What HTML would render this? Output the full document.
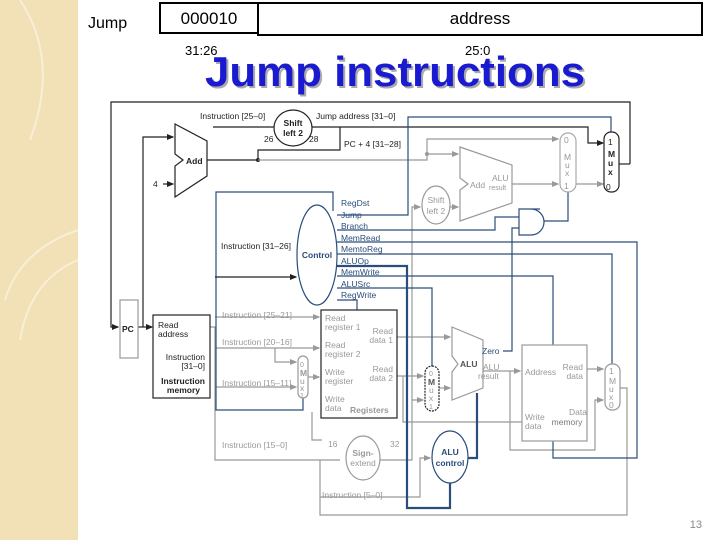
<!DOCTYPE html>
<html><head><meta charset="utf-8"><style>
html,body{margin:0;padding:0;background:#fff;}
body{width:720px;height:540px;position:relative;overflow:hidden;font-family:"Liberation Sans",sans-serif;}
.strip{position:absolute;left:0;top:0;width:78px;height:540px;background:#f2e0b6;}
svg{position:absolute;left:0;top:0;}
</style></head><body>
<div class="strip"></div>
<svg width="720" height="540" viewBox="0 0 720 540" font-family="Liberation Sans, sans-serif">
<defs>
<marker id="a" markerWidth="6" markerHeight="6" refX="5" refY="3" orient="auto"><path d="M0,0.5 L6,3 L0,5.5z" fill="#222"/></marker>
<marker id="g" markerWidth="6" markerHeight="6" refX="5" refY="3" orient="auto"><path d="M0,0.5 L6,3 L0,5.5z" fill="#999"/></marker>
</defs>
<path d="M20,0 Q60,60 30,140 M78,230 Q20,250 5,300 M78,260 Q30,280 20,340" stroke="#f8efd8" stroke-width="2" fill="none"/>
<!-- header -->
<text x="88" y="28" font-size="16">Jump</text>
<rect x="160" y="3" width="98" height="30" fill="#fff" stroke="#000" stroke-width="2"/>
<rect x="258" y="3" width="444" height="32" fill="#fff" stroke="#000" stroke-width="2"/>
<text x="209" y="24" font-size="17" text-anchor="middle">000010</text>
<text x="480" y="24" font-size="17" text-anchor="middle">address</text>
<text x="185" y="55" font-size="13">31:26</text>
<text x="465" y="55" font-size="13">25:0</text>
<text x="207" y="88" font-size="42" font-weight="bold" fill="#aaa" textLength="380" lengthAdjust="spacingAndGlyphs">Jump instructions</text>
<text x="205" y="86" font-size="42" font-weight="bold" fill="#1a1ad0" textLength="380" lengthAdjust="spacingAndGlyphs">Jump instructions</text>
<text x="702" y="528" font-size="11" fill="#888" text-anchor="end">13</text>

<g fill="none" stroke-width="1.2">
<!-- black top wires -->
<path d="M630,164 H630 V102 H111 V327 H118" stroke="#222" marker-end="url(#a)"/>
<path d="M619,164 H630" stroke="#222"/>
<path d="M213,127 H588 V143 H603" stroke="#222" marker-end="url(#a)"/>
<path d="M340,127 V150 H258 V160" stroke="#222"/>
<path d="M207,160 H258" stroke="#222"/>
<circle cx="258" cy="160" r="2" fill="#222"/>
<path d="M143,327 V137 H173" stroke="#222" marker-end="url(#a)"/>
<path d="M163,184 H173" stroke="#222" marker-end="url(#a)"/>
<path d="M138,327 H152" stroke="#222" marker-end="url(#a)"/>
<!-- gray wires -->
<path d="M258,160 H427 V139 H558" stroke="#999" marker-end="url(#g)"/>
<path d="M427,154 H458" stroke="#999" marker-end="url(#g)"/>
<circle cx="427" cy="154" r="2" fill="#999"/>
<path d="M512,184 H558" stroke="#999" marker-end="url(#g)"/>
<path d="M576,184 H603" stroke="#999" marker-end="url(#g)"/>
<path d="M450,207 H458" stroke="#999" marker-end="url(#g)"/>
<path d="M412,400 V207 H420" stroke="#999" marker-end="url(#g)"/>
<path d="M210,327 H215 V460 H340" stroke="#999"/>
<path d="M215,317 H319" stroke="#999" marker-end="url(#g)"/>
<path d="M215,348 H319" stroke="#999" marker-end="url(#g)"/>
<path d="M275,348 V362 H296" stroke="#999" marker-end="url(#g)"/>
<path d="M215,387 H296" stroke="#999" marker-end="url(#g)"/>
<path d="M308,377 H319" stroke="#999" marker-end="url(#g)"/>
<path d="M397,337 H450" stroke="#999" marker-end="url(#g)"/>
<path d="M397,376 H423" stroke="#999" marker-end="url(#g)"/>
<path d="M403,376 V422 H522" stroke="#999"/>
<path d="M439,388 H450" stroke="#999" marker-end="url(#g)"/>
<path d="M380,460 H412 V400 H423" stroke="#999" marker-end="url(#g)"/>
<path d="M320,460 V515 H627 V388 H620" stroke="#999"/>
<path d="M320,497 H420 V458 H430" stroke="#999" marker-end="url(#g)"/>
<path d="M483,371 H520" stroke="#999" marker-end="url(#g)"/>
<path d="M510,371 V450 H595 V400 H603" stroke="#999" marker-end="url(#g)"/>
<path d="M587,369 H603" stroke="#999" marker-end="url(#g)"/>
<path d="M312,412 V440 H322" stroke="#999"/>
<!-- blue wires -->
<g stroke="#2a4d7a">
<path d="M337,215 H408 V117 H611 V132"/>
<path d="M333,211 V192 H216 V410 H303 V398"/>
<path d="M337,230 H495 V217 H519"/>
<path d="M337,242 H637 V458 H553 V441"/>
<path d="M337,254 H612 V364"/>
<path d="M337,266 H407 V508 H450 V483" stroke-width="2.2"/>
<path d="M337,276 H553 V345"/>
<path d="M337,288 H432 V366"/>
<path d="M337,300 H357 V310"/>
<path d="M503,351 H512 V228 H519"/>
<path d="M542,221 H568 V192"/>
<path d="M468,458 H477 V393" stroke-width="2.2"/>
</g>
<path d="M215,277 H296" stroke="#222" marker-end="url(#a)"/>
</g>

<!-- components -->
<g stroke-width="1.2">
<polygon points="175,124 207,141 207,176 175,197 175,166 183,160 175,154" fill="#fff" stroke="#222"/>
<ellipse cx="293" cy="128" rx="19" ry="18" fill="#fff" stroke="#222"/>
<path d="M540,209 H531 A13,13 0 0 1 531,235 H519 V209 Z" fill="#fff" stroke="#2a4d7a"/>
<rect x="604" y="132" width="15" height="60" rx="7" fill="#fff" stroke="#222"/>
<polygon points="460,147 512,165 512,203 460,221 460,190 468,184 460,178" fill="#fff" stroke="#999"/>
<rect x="560" y="133" width="16" height="59" rx="8" fill="#fff" stroke="#aaa"/>
<ellipse cx="436" cy="205" rx="14" ry="19" fill="#fff" stroke="#999"/>
<ellipse cx="317" cy="255" rx="20" ry="50" fill="#fff" stroke="#2a4d7a"/>
<rect x="120" y="300" width="18" height="58" fill="#fff" stroke="#999"/>
<rect x="153" y="315" width="57" height="83" fill="#fff" stroke="#222"/>
<rect x="321" y="310" width="76" height="108" fill="#fff" stroke="#222"/>
<rect x="298" y="356" width="10" height="42" rx="5" fill="#fff" stroke="#999"/>
<polygon points="452,327 483,340 483,388 452,400 452,372 458,364 452,356" fill="#fff" stroke="#999"/>
<rect x="425" y="366" width="14" height="45" rx="7" fill="#fff" stroke="#222" stroke-dasharray="2,1"/>
<rect x="522" y="345" width="65" height="96" fill="#fff" stroke="#999"/>
<rect x="605" y="364" width="15" height="46" rx="7" fill="#fff" stroke="#999"/>
<ellipse cx="363" cy="458" rx="17" ry="22" fill="#fff" stroke="#999"/>
<ellipse cx="450" cy="457" rx="18" ry="26" fill="#fff" stroke="#2a4d7a"/>
</g>

<!-- labels -->
<g font-size="8.5" fill="#222">
<text x="200" y="119">Instruction [25–0]</text>
<text x="316" y="119">Jump address [31–0]</text>
<text x="264" y="142">26</text><text x="309" y="142">28</text>
<text x="344" y="147">PC + 4 [31–28]</text>
<text x="293" y="126" text-anchor="middle" font-weight="bold">Shift</text>
<text x="293" y="136" text-anchor="middle" font-weight="bold">left 2</text>
<text x="186" y="164" font-weight="bold">Add</text>
<text x="153" y="187">4</text>
<text x="608" y="145">1</text><text x="608" y="157" font-weight="bold">M</text><text x="608" y="166" font-weight="bold">u</text><text x="608" y="175" font-weight="bold">x</text><text x="606" y="190">0</text>
<text x="221" y="249">Instruction [31–26]</text>
<text x="122" y="332" font-weight="bold">PC</text>
<text x="158" y="328">Read</text><text x="158" y="337">address</text>
<text x="205" y="360" text-anchor="end">Instruction</text><text x="205" y="369" text-anchor="end">[31–0]</text>
<text x="205" y="384" text-anchor="end" font-weight="bold">Instruction</text><text x="200" y="393" text-anchor="end" font-weight="bold">memory</text>
</g>
<g font-size="8.5" fill="#2a4d7a">
<text x="341" y="206">RegDst</text><text x="341" y="218">Jump</text><text x="341" y="229">Branch</text>
<text x="341" y="241">MemRead</text><text x="341" y="252">MemtoReg</text><text x="341" y="264">ALUOp</text>
<text x="341" y="275">MemWrite</text><text x="341" y="287">ALUSrc</text><text x="341" y="298">RegWrite</text>
<text x="317" y="258" text-anchor="middle" font-weight="bold">Control</text>
<text x="450" y="455" text-anchor="middle" font-weight="bold">ALU</text>
<text x="450" y="466" text-anchor="middle" font-weight="bold">control</text>
<text x="482" y="354">Zero</text>
</g>
<g font-size="8.5" fill="#999">
<text x="470" y="188">Add</text><text x="492" y="181">ALU</text><text x="489" y="190" font-size="7">result</text>
<text x="564" y="143">0</text><text x="564" y="160">M</text><text x="565" y="168">u</text><text x="565" y="176">x</text><text x="564" y="189">1</text>
<text x="436" y="203" text-anchor="middle">Shift</text><text x="436" y="214" text-anchor="middle">left 2</text>
<text x="222" y="318">Instruction [25–21]</text>
<text x="222" y="345">Instruction [20–16]</text>
<text x="222" y="386">Instruction [15–11]</text>
<text x="222" y="448">Instruction [15–0]</text>
<text x="322" y="498">Instruction [5–0]</text>
<text x="325" y="321">Read</text><text x="325" y="330">register 1</text>
<text x="325" y="348">Read</text><text x="325" y="357">register 2</text>
<text x="325" y="375">Write</text><text x="325" y="384">register</text>
<text x="325" y="402">Write</text><text x="325" y="411">data</text>
<text x="393" y="334" text-anchor="end">Read</text><text x="393" y="343" text-anchor="end">data 1</text>
<text x="393" y="372" text-anchor="end">Read</text><text x="393" y="381" text-anchor="end">data 2</text>
<text x="350" y="413" font-weight="bold">Registers</text>
<text x="300" y="367" font-size="7">0</text><text x="300" y="376" font-weight="bold">M</text><text x="300" y="384">u</text><text x="300" y="391">x</text><text x="300" y="398" font-size="7">1</text>
<text x="429" y="376" font-size="7">0</text><text x="428" y="385" font-weight="bold" fill="#555">M</text><text x="429" y="393">u</text><text x="429" y="401">x</text><text x="429" y="409" font-size="7">1</text>
<text x="460" y="367" font-weight="bold" fill="#555">ALU</text><text x="483" y="370">ALU</text><text x="478" y="379">result</text>
<text x="525" y="375">Address</text><text x="583" y="370" text-anchor="end">Read</text><text x="583" y="379" text-anchor="end">data</text>
<text x="525" y="420">Write</text><text x="525" y="429">data</text>
<text x="578" y="415" text-anchor="middle">Data</text><text x="567" y="425" text-anchor="middle" fill="#777">memory</text>
<text x="609" y="374">1</text><text x="609" y="384">M</text><text x="609" y="392">u</text><text x="609" y="400">x</text><text x="609" y="408">0</text>
<text x="363" y="456" text-anchor="middle" font-weight="bold">Sign-</text><text x="363" y="466" text-anchor="middle">extend</text>
<text x="328" y="447">16</text><text x="390" y="447">32</text>
</g>
</svg>
</body></html>
